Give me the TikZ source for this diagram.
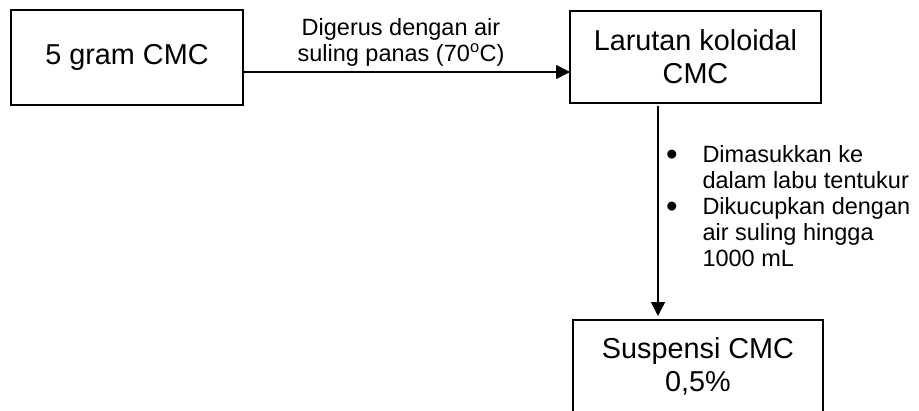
\documentclass[tikz,border=0pt]{standalone}
\usepackage{fontspec}
\setmainfont{Liberation Sans}
\usetikzlibrary{arrows.meta}
\newcommand{\bigbul}{\makebox[36.5pt][l]{\raisebox{-2.8pt}{\scalebox{1.4}{\textbullet}}}}
\begin{document}
\begin{tikzpicture}[x=1pt,y=-1pt,
  box/.style={draw=black,line width=1.8pt,inner sep=0pt,outer sep=0pt,align=center,
    font=\fontsize{28.8}{33}\selectfont},
  lbl/.style={inner sep=0pt,outer sep=0pt,font=\fontsize{23.5}{26}\selectfont},
  arr/.style={line width=1.6pt,-{Triangle[length=14pt,width=14pt]}}]
\useasboundingbox (0,0) rectangle (919,410);
\fill[white] (0,0) rectangle (919,410);
\clip (0,0) rectangle (919,410);
\node[box,minimum width=232pt,minimum height=95pt] (b1) at (127,57.5) {5 gram CMC};
\node[box,minimum width=251pt,minimum height=92pt] (b2) at (695.5,57) {Larutan koloidal\\CMC};
\node[box,minimum width=250pt,minimum height=92pt] (b3) at (698,366) {Suspensi CMC\\0,5\%};
\node[lbl,align=center] (l1) at (401,42) {Digerus dengan air\\suling panas (70\textsuperscript{o}C)};
\node[lbl,anchor=north west] (l2) at (666,144.5) {\begin{tabular}{@{}l@{}l@{}}
\bigbul & Dimasukkan ke\\
 & dalam labu tentukur\\
\bigbul & Dikucupkan dengan\\
 & air suling hingga\\
 & 1000 mL
\end{tabular}};
\draw[arr] ([yshift=-14.5pt]b1.east) -- ([yshift=-14.5pt]b1.east -| b2.west);
\draw[arr,shorten <=3pt,shorten >=4pt] ([xshift=-37.5pt]b2.south) -- ([xshift=-37.5pt]b2.south |- b3.north);
\end{tikzpicture}
\end{document}
